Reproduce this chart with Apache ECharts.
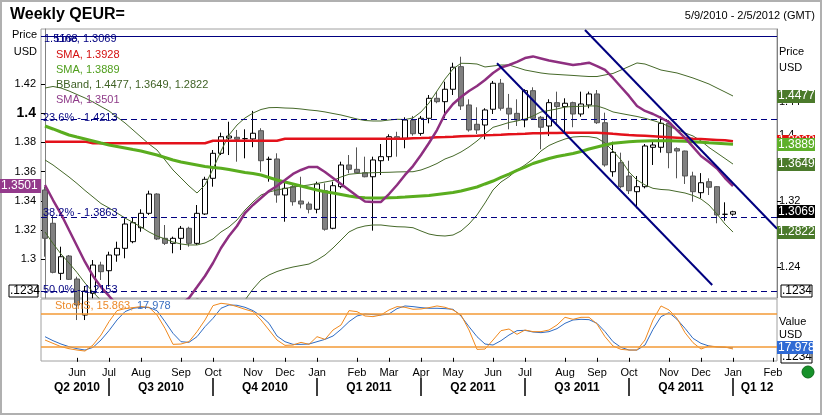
<!DOCTYPE html>
<html><head><meta charset="utf-8">
<script src="https://cdn.jsdelivr.net/npm/echarts@6/dist/echarts.min.js"></script>
<style>html,body{margin:0;padding:0;background:#fff}#c{width:822px;height:416px}</style>
</head><body><div id="c"></div>
<script>
// ---------- data ----------
const startDate = [2010, 4, 9];   // first weekly bar (Sun 9 May 2010)
const weekCount = 92;             // through 5 Feb 2012
// [open, close, low, high]
const ohlc = [
[1.3334,1.2746,1.2522,1.3374],[1.2929,1.2332,1.2320,1.3030],[1.2320,1.2522,1.2239,1.2644],[1.2531,1.2247,1.2239,1.2543],
[1.2251,1.1935,1.1752,1.2279],[1.1813,1.2105,1.1752,1.2166],[1.2077,1.2421,1.2017,1.2482],[1.2421,1.2340,1.2239,1.2461],
[1.2352,1.2543,1.2157,1.2583],[1.2543,1.2624,1.2461,1.2705],[1.2624,1.2920,1.2503,1.2989],[1.2705,1.2936,1.2686,1.3002],
[1.2875,1.3050,1.2826,1.3099],[1.3050,1.3285,1.3030,1.3325],[1.3285,1.2738,1.2725,1.3294],[1.2746,1.2685,1.2665,1.2908],
[1.2685,1.2746,1.2564,1.2766],[1.2746,1.2868,1.2604,1.2896],[1.2868,1.2685,1.2644,1.2887],[1.2685,1.3050,1.2665,1.3151],
[1.3042,1.3464,1.3030,1.3495],[1.3476,1.3780,1.3374,1.3820],[1.3780,1.3982,1.3759,1.4031],[1.3966,1.3990,1.3759,1.4164],
[1.3975,1.3951,1.3678,1.4064],[1.3958,1.3958,1.3719,1.4072],[1.3955,1.4024,1.3854,1.4296],[1.4055,1.3690,1.3556,1.4085],
[1.3707,1.3707,1.3435,1.3739],[1.3711,1.3273,1.3179,1.3780],[1.3273,1.3354,1.2948,1.3455],[1.3374,1.3191,1.3143,1.3415],
[1.3200,1.3163,1.3111,1.3495],[1.3163,1.3099,1.3050,1.3191],[1.3099,1.3407,1.3050,1.3435],[1.3325,1.2856,1.2839,1.3415],
[1.2868,1.3386,1.2856,1.3435],[1.3374,1.3638,1.3354,1.3678],[1.3638,1.3585,1.3537,1.3759],[1.3585,1.3544,1.3544,1.3852],
[1.3544,1.3495,1.3488,1.3739],[1.3495,1.3699,1.2839,1.3739],[1.3690,1.3739,1.3516,1.3893],[1.3739,1.3982,1.3690,1.4011],
[1.3982,1.3955,1.3739,1.4042],[1.3963,1.4185,1.3841,1.4218],[1.4182,1.4018,1.3994,1.4234],[1.4022,1.4206,1.3994,1.4234],
[1.4206,1.4449,1.4145,1.4489],[1.4449,1.4408,1.4389,1.4530],[1.4408,1.4559,1.4206,1.4651],[1.4559,1.4827,1.4489,1.4882],
[1.4834,1.4356,1.4307,1.4955],[1.4368,1.4064,1.4043,1.4437],[1.4133,1.4064,1.4015,1.4340],[1.4124,1.4307,1.3950,1.4328],
[1.4316,1.4632,1.4258,1.4660],[1.4632,1.4328,1.4299,1.4684],[1.4328,1.4258,1.4072,1.4502],[1.4266,1.4185,1.4112,1.4437],
[1.4185,1.4542,1.4097,1.4559],[1.4542,1.4206,1.4185,1.4583],[1.4218,1.4097,1.3829,1.4234],[1.4112,1.4396,1.3990,1.4437],
[1.4396,1.4348,1.4112,1.4530],[1.4348,1.4389,1.4031,1.4449],[1.4396,1.4258,1.4097,1.4408],[1.4258,1.4380,1.4225,1.4530],
[1.4368,1.4502,1.4328,1.4530],[1.4502,1.4152,1.4137,1.4550],[1.4152,1.3638,1.3617,1.4274],[1.3556,1.3792,1.3495,1.3921],
[1.3666,1.3374,1.3354,1.3788],[1.3504,1.3325,1.3285,1.3690],[1.3313,1.3374,1.3111,1.3504],[1.3374,1.3869,1.3354,1.3893],
[1.3853,1.3881,1.3638,1.3921],[1.3853,1.4145,1.3788,1.4234],[1.4145,1.3788,1.3598,1.4185],[1.3836,1.3808,1.3476,1.3853],
[1.3808,1.3504,1.3407,1.3812],[1.3504,1.3313,1.3191,1.3556],[1.3301,1.3422,1.3233,1.3539],[1.3435,1.3367,1.3273,1.3476],
[1.3374,1.3030,1.2929,1.3382],[1.3038,1.3038,1.2960,1.3184],[1.3040,1.3069,1.3020,1.3081]
];
const smaRed = [
1.3922,1.3922,1.3922,1.3922,1.3922,1.3922,
1.3902,1.3902,1.3902,1.3902,1.3902,1.3902,1.3902,1.3902,1.3902,1.3902,1.3902,1.3902,1.3902,1.3902,1.3902,
1.3933,1.3933,1.3933,1.3933,1.3933,1.3933,1.3933,1.3933,1.3933,
1.3958,1.3958,1.3958,1.3958,1.3958,1.3958,1.3958,1.3958,1.3958,1.3958,1.3958,1.3958,1.3958,1.3958,1.3958,1.3958,
1.3963,1.3966,1.3970,1.3975,1.3978,1.3982,1.3987,1.3991,1.3995,1.4000,1.4003,1.4007,1.4012,1.4015,1.4019,1.4024,
1.4025,1.4027,1.4028,1.4030,1.4031,1.4031,1.4031,1.4031,1.4025,1.4017,1.4010,1.4003,1.3998,1.3993,1.3988,1.3982,
1.3976,1.3970,1.3964,1.3958,1.3953,1.3948,1.3943,1.3938,1.3928];
const smaGreen = [
1.4112,1.4076,1.4039,1.4003,1.3978,1.3954,1.3930,1.3905,1.3881,1.3863,
1.3845,1.3826,1.3808,1.3784,1.3759,1.3729,1.3699,1.3674,1.3656,1.3638,
1.3620,1.3607,1.3598,1.3583,1.3565,1.3547,1.3535,1.3516,1.3486,1.3455,
1.3431,1.3407,1.3382,1.3358,1.3334,1.3313,1.3297,1.3279,1.3261,1.3245,
1.3239,1.3236,1.3236,1.3239,1.3242,1.3248,1.3255,1.3261,1.3267,1.3279,
1.3291,1.3303,1.3321,1.3346,1.3370,1.3407,1.3443,1.3486,1.3528,1.3571,
1.3613,1.3656,1.3686,1.3717,1.3741,1.3759,1.3778,1.3802,1.3832,1.3857,
1.3881,1.3902,1.3912,1.3921,1.3927,1.3930,1.3932,1.3933,1.3932,1.3930,
1.3926,1.3921,1.3915,1.3908,1.3902,1.3896,1.3889];
const smaPurple = [
1.3508,1.3405,1.3309,1.3199,1.3090,1.2980,1.2884,1.2808,1.2747,1.2685,
1.2637,1.2596,1.2568,1.2555,1.2568,1.2609,1.2651,1.2692,1.2733,1.2808,
1.2884,1.2973,1.3076,1.3158,1.3227,1.3316,1.3371,1.3419,1.3467,1.3501,
1.3542,1.3584,1.3611,1.3632,1.3632,1.3597,1.3556,1.3515,1.3474,1.3433,
1.3395,1.3392,1.3392,1.3446,1.3508,1.3577,1.3638,1.3714,1.3796,1.3885,
1.3995,1.4064,1.4112,1.4153,1.4187,1.4228,1.4276,1.4314,1.4331,1.4352,
1.4379,1.4390,1.4376,1.4362,1.4352,1.4342,1.4331,1.4338,1.4347,1.4324,
1.4297,1.4242,1.4180,1.4119,1.4050,1.4016,1.3995,1.3968,1.3940,1.3885,
1.3831,1.3769,1.3707,1.3666,1.3621,1.3556,1.3501];
const bbUpper = [
1.4574,1.4593,1.4574,1.4538,1.4495,1.4453,1.4404,1.4349,1.4295,1.4222,
1.4149,1.4064,1.3978,1.3893,1.3820,1.3699,1.3577,1.3480,1.3382,1.3297,
1.3395,1.3589,1.3808,1.4003,1.4124,1.4210,1.4270,1.4313,1.4335,1.4337,
1.4331,1.4328,1.4319,1.4307,1.4298,1.4283,1.4264,1.4246,1.4222,1.4197,
1.4179,1.4173,1.4173,1.4185,1.4194,1.4191,1.4210,1.4283,1.4392,1.4538,
1.4684,1.4806,1.4875,1.4873,1.4866,1.4830,1.4842,1.4854,1.4854,1.4824,
1.4793,1.4775,1.4757,1.4745,1.4739,1.4733,1.4727,1.4720,1.4714,1.4714,
1.4733,1.4751,1.4793,1.4836,1.4879,1.4866,1.4830,1.4793,1.4775,1.4757,
1.4727,1.4696,1.4660,1.4623,1.4574,1.4526,1.4477];
const bbMid = [
1.3699,1.3638,1.3565,1.3492,1.3413,1.3328,1.3249,1.3169,1.3115,1.3054,
1.2993,1.2938,1.2884,1.2823,1.2774,1.2738,1.2701,1.2677,1.2665,1.2665,
1.2689,1.2738,1.2823,1.2884,1.2969,1.3090,1.3188,1.3273,1.3309,1.3334,
1.3352,1.3370,1.3382,1.3395,1.3413,1.3431,1.3449,1.3492,1.3525,1.3534,
1.3541,1.3544,1.3547,1.3549,1.3553,1.3555,1.3556,1.3577,1.3613,1.3656,
1.3711,1.3747,1.3796,1.3857,1.3930,1.4015,1.4096,1.4124,1.4155,1.4173,
1.4197,1.4234,1.4283,1.4301,1.4319,1.4343,1.4349,1.4352,1.4356,1.4356,
1.4325,1.4283,1.4264,1.4246,1.4228,1.4206,1.4179,1.4149,1.4106,1.4070,
1.4027,1.3991,1.3930,1.3851,1.3784,1.3717,1.3649];
const bbLower = [
1.2823,1.2683,1.2555,1.2446,1.2330,1.2202,1.2093,1.1989,1.1935,1.1886,
1.1837,1.1813,1.1789,1.1752,1.1728,1.1777,1.1825,1.1874,1.1947,1.2010,
1.1983,1.1886,1.1837,1.1764,1.1935,1.1995,1.2129,1.2239,1.2300,1.2342,
1.2373,1.2397,1.2415,1.2433,1.2482,1.2543,1.2628,1.2725,1.2823,1.2871,
1.2896,1.2908,1.2908,1.2896,1.2887,1.2884,1.2875,1.2835,1.2798,1.2780,
1.2774,1.2786,1.2835,1.2920,1.3030,1.3176,1.3334,1.3431,1.3495,1.3577,
1.3638,1.3711,1.3808,1.3875,1.3918,1.3954,1.3978,1.3984,1.3982,1.3966,
1.3905,1.3808,1.3699,1.3553,1.3455,1.3395,1.3354,1.3340,1.3334,1.3315,
1.3297,1.3267,1.3224,1.3151,1.3042,1.2920,1.2822];
const stochK = [
32.0,26.0,20.1,16.4,14.0,12.2,23.0,41.0,65.0,84.8,
88.4,90.2,92.0,90.8,77.0,53.0,24.2,24.8,29.0,47.0,
68.0,93.8,98.0,96.2,92.0,87.2,83.0,68.0,50.0,32.0,
22.4,23.0,27.8,24.2,38.0,33.2,50.0,59.0,84.8,83.0,
75.2,74.0,77.0,86.0,92.0,90.8,87.2,87.8,90.2,93.2,
90.8,86.0,77.0,50.0,15.2,15.8,32.0,48.8,51.8,42.2,
50.0,47.0,47.0,50.0,59.0,72.8,69.2,72.8,72.8,60.8,
38.0,21.2,15.2,14.0,14.0,32.0,68.0,93.2,86.0,71.0,
45.2,27.2,15.8,21.2,20.0,19.4,15.863];
const stochD = [
38.0,30.8,24.8,20.0,16.4,14.0,18.8,32.0,48.8,68.0,
83.0,89.0,90.8,90.2,84.8,65.0,44.0,29.0,27.8,38.0,
56.0,71.0,89.0,95.0,94.4,90.8,84.8,75.2,62.0,39.2,
29.0,24.2,24.2,24.8,29.0,33.2,39.2,51.2,65.0,75.2,
78.8,77.6,77.0,78.8,88.4,93.2,92.0,90.2,89.0,89.0,
88.4,87.2,75.2,56.0,38.0,24.8,23.0,30.8,41.0,48.8,
49.4,46.4,45.2,47.0,52.4,62.0,68.0,69.2,68.6,62.0,
47.0,29.0,18.8,14.0,14.0,23.0,51.2,74.0,81.2,69.2,
53.0,35.0,26.0,21.2,19.4,18.8,17.978];
const stochLevels = [20, 80];
const hLineLevel = 1.5168;
const fibLevels = [1.4213, 1.3050, 1.2120];
const fibLabels = ['23.6% - 1.4213', '38.2% - 1.3863', '50.0% - 1.2153'];
// trend lines: [weekIndex, price]
const trendLower = [[56.5, 1.4875], [83.4, 1.2178]];
const trendUpper = [[67.5, 1.5280], [91.5, 1.2863]];
const monthTicks = {4:'Jun',8:'Jul',12:'Aug',17:'Sep',21:'Oct',26:'Nov',30:'Dec',34:'Jan',39:'Feb',43:'Mar',
  47:'Apr',51:'May',56:'Jun',60:'Jul',65:'Aug',69:'Sep',73:'Oct',78:'Nov',82:'Dec',86:'Jan',91:'Feb'};
const quarterStarts = [8, 21, 34, 47, 60, 73, 86];
const quarterNames = ['Q2 2010','Q3 2010','Q4 2010','Q1 2011','Q2 2011','Q3 2011','Q4 2011','Q1 12'];
const leftTicks = [1.3, 1.32, 1.34, 1.36, 1.38, 1.4, 1.42];
const rightTicks = [1.24, 1.28, 1.32, 1.36, 1.4, 1.44];

// ---------- chart ----------
const weeks = [];
for (let k = 0; k < weekCount; k++) {
  const d = new Date(Date.UTC(startDate[0], startDate[1], startDate[2] + 7 * k));
  weeks.push((d.getUTCMonth() + 1) + '/' + d.getUTCDate() + '/' + d.getUTCFullYear());
}
const FONT = '"Liberation Sans", Arial, sans-serif';
const F11 = '11px ' + FONT;
const NAVY = '#000080';
const chart = echarts.init(document.getElementById('c'));
const line = (data, y, color, width, extra) => Object.assign({
  type: 'line', xAxisIndex: 0, yAxisIndex: y, data: data, symbol: 'none', silent: true,
  lineStyle: {color: color, width: width}, emphasis: {disabled: true}, z: 3
}, extra || {});

chart.setOption({
  animation: false,
  backgroundColor: '#fff',
  textStyle: {fontFamily: FONT},
  grid: [
    {left: 41, top: 29, width: 736, height: 269, show: true, borderColor: '#a0a0a0', borderWidth: 1, backgroundColor: '#fff'},
    {left: 41, top: 299, width: 736, height: 62, show: true, borderColor: '#a0a0a0', borderWidth: 1, backgroundColor: '#fff'}
  ],
  xAxis: [
    {type: 'category', gridIndex: 0, data: weeks, axisLine: {show: false}, axisTick: {show: false}, axisLabel: {show: false}},
    {type: 'category', gridIndex: 1, position: 'bottom', data: weeks, axisLine: {show: false},
     axisTick: {show: true, alignWithLabel: true, length: 4, interval: (i) => monthTicks[i] !== undefined, lineStyle: {color: '#000'}},
     axisLabel: {show: true, interval: (i) => monthTicks[i] !== undefined, formatter: (v, i) => monthTicks[i] || '',
                 fontSize: 11, color: '#000', margin: 6, fontFamily: FONT}},
    {type: 'value', gridIndex: 0, min: -0.5, max: weekCount - 0.5, show: false},
    {type: 'category', gridIndex: 1, position: 'bottom', data: weeks, offset: 17, axisLine: {show: false},
     axisTick: {show: true, alignWithLabel: true, length: 18, interval: (i) => quarterStarts.includes(i), lineStyle: {color: '#000', width: 1.5}},
     axisLabel: {show: false}}
  ],
  yAxis: [
    {type: 'value', gridIndex: 0, position: 'left', min: 1.2733, max: 1.4578, splitLine: {show: false},
     axisLine: {show: true, lineStyle: {color: '#808080'}},
     axisTick: {show: true, length: 4, customValues: leftTicks, lineStyle: {color: '#000'}},
     axisLabel: {customValues: leftTicks, fontSize: 11, color: '#000', margin: 5, fontFamily: FONT,
       formatter: (v) => v === 1.4 ? '{b|1.4}' : String(+v.toFixed(2)),
       rich: {b: {fontSize: 14, fontWeight: 'bold', color: '#000', fontFamily: FONT}}}},
    {type: 'value', gridIndex: 0, position: 'right', min: 1.2020, max: 1.5292, splitLine: {show: false},
     axisLine: {show: true, lineStyle: {color: '#808080'}},
     axisTick: {show: true, length: 4, customValues: rightTicks, lineStyle: {color: '#000'}},
     axisLabel: {customValues: rightTicks, fontSize: 11, color: '#000', margin: 2, fontFamily: FONT,
       formatter: (v) => String(+v.toFixed(2))}},
    {type: 'value', gridIndex: 1, min: -5.7, max: 105.7, show: false, splitLine: {show: false}}
  ],
  series: [
    {type: 'candlestick', xAxisIndex: 0, yAxisIndex: 1, data: ohlc, barWidth: 5, silent: true, z: 2,
     itemStyle: {color: '#ffffff', color0: '#808080', borderColor: '#000000', borderColor0: '#555555', borderColorDoji: '#000000', borderWidth: 1}},
    line(bbUpper, 1, '#46692a', 1),
    line(bbMid, 1, '#46692a', 1),
    line(bbLower, 1, '#46692a', 1),
    line(smaRed, 1, '#e3121b', 2.5, {z: 4, markLine: {silent: true, symbol: 'none', label: {show: false},
      data: [{yAxis: hLineLevel, lineStyle: {type: 'solid', color: NAVY, width: 1}}]
        .concat(fibLevels.map(v => ({yAxis: v, lineStyle: {type: [6, 4], color: NAVY, width: 1}})))}}),
    line(smaGreen, 1, '#5aad1f', 3, {z: 4}),
    line(smaPurple, 0, '#8e2f80', 2.5, {z: 5}),
    {type: 'line', xAxisIndex: 2, yAxisIndex: 1, data: trendLower, symbol: 'none', silent: true, lineStyle: {color: NAVY, width: 2}, z: 6},
    {type: 'line', xAxisIndex: 2, yAxisIndex: 1, data: trendUpper, symbol: 'none', silent: true, lineStyle: {color: NAVY, width: 2}, z: 6},
    {type: 'line', xAxisIndex: 1, yAxisIndex: 2, data: stochK, symbol: 'none', silent: true, lineStyle: {color: '#f0891e', width: 1}, z: 4,
     markLine: {silent: true, symbol: 'none', label: {show: false},
       data: stochLevels.map(v => ({yAxis: v})), lineStyle: {type: 'solid', color: '#f39a36', width: 1.5}}},
    {type: 'line', xAxisIndex: 1, yAxisIndex: 2, data: stochD, symbol: 'none', silent: true, lineStyle: {color: '#2f6cc4', width: 1}, z: 3}
  ]
});

// ---------- overlay texts positioned through the scales ----------
const yR = v => chart.convertToPixel({yAxisIndex: 1}, v);
const yL = v => chart.convertToPixel({yAxisIndex: 0}, v);
const yS = v => chart.convertToPixel({yAxisIndex: 2}, v);
const xC = i => chart.convertToPixel({xAxisIndex: 1}, i);
function txt(x, y, text, color, font, align) {
  return {type: 'text', x: x, y: y, z: 100, silent: true,
    style: {text: text, fill: color, font: font || F11, textAlign: align || 'left', align: align || 'left',
            textVerticalAlign: 'middle', verticalAlign: 'middle'}};
}
function box(x, yc, w, h, bg, fg, text, stroke) {
  return {type: 'group', z: 100, silent: true, children: [
    {type: 'rect', z: 100, shape: {x: x, y: Math.round(yc - h / 2), width: w, height: h},
     style: {fill: bg, stroke: stroke || null, lineWidth: 1}},
    txt(x + 1, yc, text, fg, '12px ' + FONT)
  ]};
}
const g = [];
g.push({type: 'rect', z: 90, silent: true, shape: {x: 1, y: 1, width: 820, height: 413}, style: {fill: 'none', stroke: '#b0b0b0', lineWidth: 2}});
g.push(txt(10, 15, 'Weekly QEUR=', '#000', 'bold 16px ' + FONT));
g.push(txt(815, 16, '5/9/2010 - 2/5/2012 (GMT)', '#000', F11, 'right'));
g.push(txt(37, 35, 'Price', '#000', F11, 'right'));
g.push(txt(37, 52, 'USD', '#000', F11, 'right'));
g.push(txt(779, 52, 'Price', '#000'));
g.push(txt(779, 68, 'USD', '#000'));
// legend
g.push(txt(44, yR(hLineLevel), '1.5168', NAVY));
g.push(txt(56, yR(hLineLevel), 'Line, 1.3069', NAVY));
g.push(txt(56, 54.5, 'SMA, 1.3928', '#d40f0f'));
g.push(txt(56, 70, 'SMA, 1.3889', '#4f9e1c'));
g.push(txt(56, 84.5, 'BBand, 1.4477, 1.3649, 1.2822', '#3f6125'));
g.push(txt(56, 100, 'SMA, 1.3501', '#8e3a88'));
fibLevels.forEach((v, k) => g.push(txt(43, yR(v), fibLabels[k], NAVY)));
// right value boxes
g.push(box(777, yR(1.4477), 38, 13, '#4b7a2b', '#fff', '1.4477'));
g.push(box(777, yR(1.3928), 38, 13, '#e0120f', '#fff', '1.3928'));
g.push(box(777, yR(1.3889), 38, 13, '#5fb02a', '#fff', '1.3889'));
g.push(box(777, yR(1.3649), 38, 13, '#4b7a2b', '#fff', '1.3649'));
g.push(box(777, yR(1.3069), 38, 13, '#000000', '#fff', '1.3069'));
g.push(box(777, yR(1.2822), 38, 13, '#4b7a2b', '#fff', '1.2822'));
g.push(box(781, 291, 31, 12, '#fff', '#000', '.1234', '#000'));
// left value boxes
g.push(box(0, yL(1.3501), 41, 14, '#943a8c', '#fff', '1.3501'));
g.push(box(9, 291, 29, 12, '#fff', '#000', '.1234', '#000'));
// stoch panel
g.push(txt(55, 306, 'StochS, 15.863,', '#ec8a2a'));
g.push(txt(137, 306, '17.978', '#3a6fc0'));
g.push(txt(779, 322, 'Value', '#000'));
g.push(txt(779, 335, 'USD', '#000'));
g.push(box(781, 357, 31, 11, '#fff', '#000', '.1234', '#000'));
g.push(box(777, yS(17.978), 36, 13, '#2f6ad4', '#fff', '17.978'));
g.push({type: 'circle', z: 100, silent: true, shape: {cx: 808, cy: 372, r: 6}, style: {fill: '#17922a', stroke: '#0c6a18', lineWidth: 1}});
// quarter labels centred between separators
const qEdges = [-0.5].concat(quarterStarts).concat([weekCount - 0.5]);
quarterNames.forEach((name, k) => {
  const x = (xC(qEdges[k]) + xC(qEdges[k + 1])) / 2;
  g.push(txt(x, 388, name, '#000', 'bold 12px ' + FONT, 'center'));
});
chart.setOption({graphic: g});
</script>
</body></html>
